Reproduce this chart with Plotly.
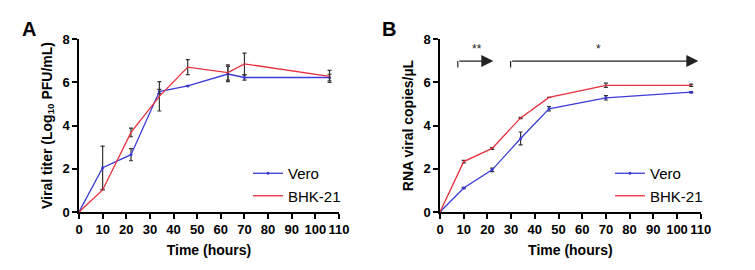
import plotly.graph_objects as go

# Panel A: viral titer
time_a = [0, 10, 22, 34, 46, 63, 70, 106]
vero_a = [0, 2.05, 2.65, 5.57, 5.83, 6.38, 6.22, 6.22]
vero_a_err = [0, 1.0, 0.28, 0.1, 0, 0.35, 0.12, 0.15]
bhk_a = [0, 1.02, 3.68, 5.35, 6.70, 6.45, 6.85, 6.27]
bhk_a_err = [0, 0, 0.2, 0.68, 0.35, 0.35, 0.5, 0.28]

# Panel B: RNA viral copies
time_b = [0, 10, 22, 34, 46, 70, 106]
vero_b = [0, 1.11, 1.95, 3.40, 4.77, 5.28, 5.54]
vero_b_err = [0, 0.03, 0.08, 0.3, 0.1, 0.1, 0.03]
bhk_b = [0, 2.33, 2.94, 4.35, 5.30, 5.86, 5.86]
bhk_b_err = [0, 0.06, 0.04, 0.03, 0, 0.1, 0.05]

x_ticks = list(range(0, 111, 10))
y_ticks = [0, 2, 4, 6, 8]

# significance brackets in panel B: (start, end, label, label position)
sig_brackets = [(7.5, 22.5, "**", 15.5), (29.8, 109, "*", 66.8)]
sig_y = 6.98
sig_drop = 0.3
sig_label_y = 7.55

BLUE = "#3b3bd9"
RED = "#e8303c"
ERR = "#333333"
FONT = "Liberation Sans, Arial, sans-serif"

fig = go.Figure()

def add(x, y, e, name, color, xa, ya, legend, marker):
    fig.add_trace(go.Scatter(
        x=x, y=y, name=name, mode="lines+markers" if marker else "lines",
        line=dict(color=color, width=1.3),
        marker=dict(size=3, color=color),
        error_y=dict(type="data", array=e, visible=True, color=ERR, thickness=1.2, width=2),
        xaxis=xa, yaxis=ya, legend=legend,
    ))

add(time_a, vero_a, vero_a_err, "Vero", BLUE, "x", "y", "legend", True)
add(time_a, bhk_a, bhk_a_err, "BHK-21", RED, "x", "y", "legend", False)
add(time_b, vero_b, vero_b_err, "Vero", BLUE, "x2", "y2", "legend2", True)
add(time_b, bhk_b, bhk_b_err, "BHK-21", RED, "x2", "y2", "legend2", False)

axis_common = dict(
    showline=True, linecolor="black", linewidth=1.5, ticks="outside", ticklen=5,
    tickwidth=1.5, tickcolor="black", showgrid=False, zeroline=False, automargin=False,
    tickfont=dict(family=FONT, size=13, color="black", weight="bold"),
)
title_font = dict(family=FONT, size=14, color="black", weight="bold")
ya0, ya1 = 1 - 212 / 270, 1 - 39 / 270
fig.update_layout(
    width=755, height=270, margin=dict(l=0, r=0, t=0, b=0, autoexpand=False),
    paper_bgcolor="white", plot_bgcolor="white",
    xaxis=dict(domain=[79 / 755, 339 / 755], range=[0, 110], tickvals=x_ticks, anchor="y",
               title=dict(text="Time (hours)", font=title_font, standoff=9), **axis_common),
    yaxis=dict(domain=[ya0, ya1], range=[0, 8], tickvals=y_ticks, anchor="x",
               title=dict(text="Viral titer (Log<sub>10</sub> PFU/mL)", font=title_font, standoff=7), **axis_common),
    xaxis2=dict(domain=[440 / 755, 700.7 / 755], range=[0, 110], tickvals=x_ticks, anchor="y2",
                title=dict(text="Time (hours)", font=title_font, standoff=9), **axis_common),
    yaxis2=dict(domain=[ya0, ya1], range=[0, 8], tickvals=y_ticks, anchor="x2",
                title=dict(text="RNA viral copies/µL", font=title_font, standoff=7), **axis_common),
    legend=dict(x=248 / 755, y=1 - 157 / 270, xanchor="left", yanchor="top", bgcolor="rgba(0,0,0,0)",
                font=dict(family=FONT, size=15, color="black"), tracegroupgap=0, itemwidth=30),
    legend2=dict(x=610 / 755, y=1 - 157 / 270, xanchor="left", yanchor="top", bgcolor="rgba(0,0,0,0)",
                 font=dict(family=FONT, size=15, color="black"), tracegroupgap=0, itemwidth=30),
    showlegend=True,
)

for lbl, xp in [("A", 20 / 755), ("B", 389 / 755)]:
    fig.add_annotation(text=lbl, x=xp, y=1 - 16 / 270, xref="paper", yref="paper",
                       showarrow=False, font=dict(family=FONT, size=20, color="black", weight="bold"))

for x0, x1, lab, lx in sig_brackets:
    fig.add_shape(type="line", x0=x0, x1=x0, y0=sig_y - sig_drop, y1=sig_y, xref="x2", yref="y2",
                  line=dict(color="#222", width=1.2))
    fig.add_annotation(x=x1, y=sig_y, ax=x0, ay=sig_y, xref="x2", yref="y2", axref="x2", ayref="y2",
                       showarrow=True, arrowhead=2, arrowsize=2, arrowwidth=1.2, arrowcolor="#222", text="")
    fig.add_annotation(x=lx, y=sig_label_y, xref="x2", yref="y2", text=lab,
                       showarrow=False, font=dict(family=FONT, size=12, color="#222"))

fig.write_html("out.html", config={"displayModeBar": False},
               post_script="document.body.style.margin='0';document.body.style.overflow='hidden';")
